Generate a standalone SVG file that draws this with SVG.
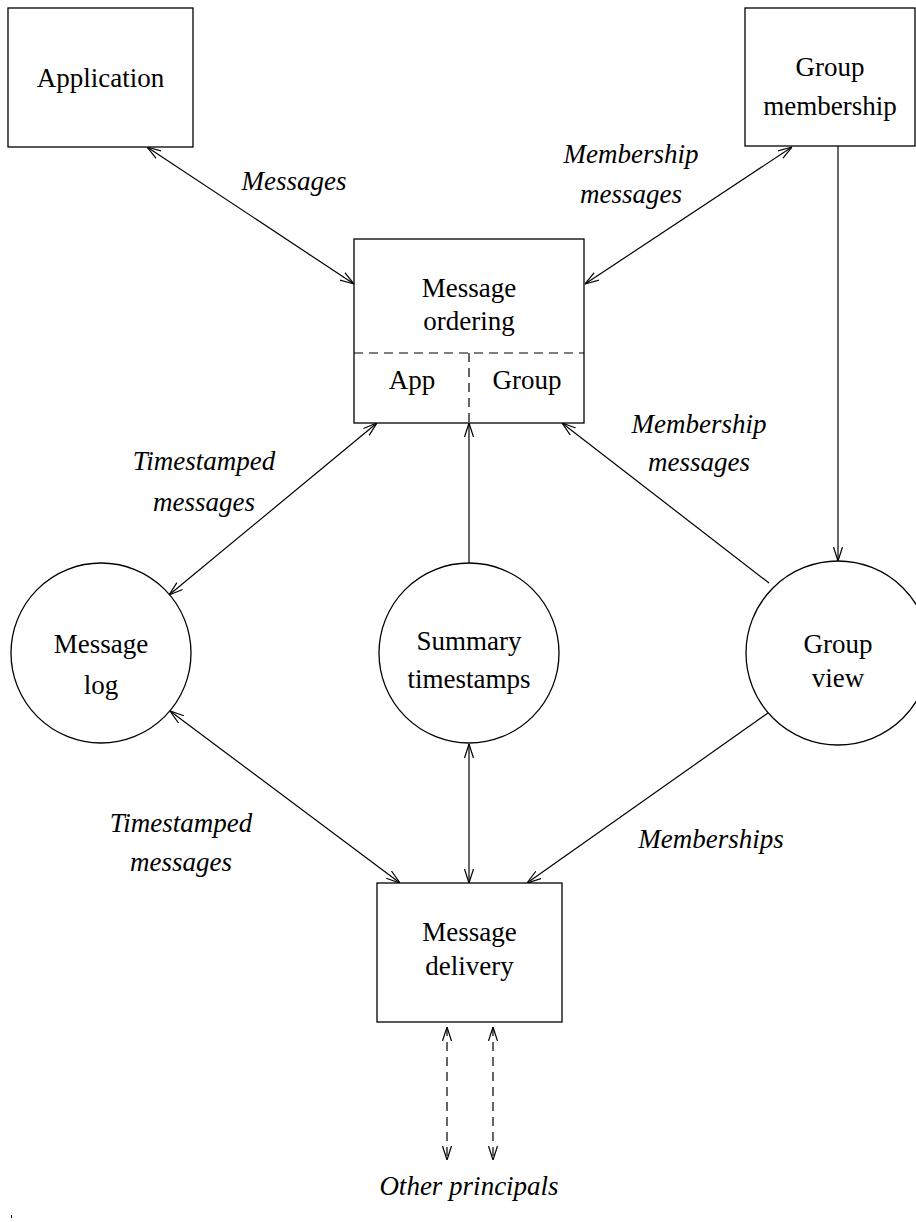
<svg xmlns="http://www.w3.org/2000/svg" width="916" height="1222" viewBox="0 0 916 1222">
<style>
.box{fill:#fff;stroke:#000;stroke-width:1.3}
.t{font-family:"Liberation Serif","Times New Roman",serif;font-size:27px;text-anchor:middle;fill:#000}
.i{font-style:italic}
.c{fill:none;stroke:#000;stroke-width:1.2}
.d{stroke-dasharray:9 6}
</style>
<defs>
<marker id="ah" viewBox="0 0 14 10" refX="14" refY="5" markerWidth="14" markerHeight="10" markerUnits="userSpaceOnUse" orient="auto-start-reverse">
<path d="M0,0.5 L14,5 L0,9.5" fill="none" stroke="#000" stroke-width="1.2" stroke-dasharray="none"/>
</marker>
</defs>
<rect width="916" height="1222" fill="#fff"/>
<g id="connectors">
<line class="c" x1="147" y1="147" x2="354" y2="284" marker-start="url(#ah)" marker-end="url(#ah)"/>
<line class="c" x1="792" y1="147" x2="585" y2="284" marker-start="url(#ah)" marker-end="url(#ah)"/>
<line class="c" x1="838" y1="146" x2="838" y2="561" marker-end="url(#ah)"/>
<line class="c" x1="377" y1="423" x2="169" y2="595" marker-start="url(#ah)" marker-end="url(#ah)"/>
<line class="c" x1="469" y1="563" x2="469" y2="423" marker-end="url(#ah)"/>
<line class="c" x1="769" y1="583" x2="562" y2="423" marker-end="url(#ah)"/>
<line class="c" x1="170" y1="711" x2="400" y2="883" marker-start="url(#ah)" marker-end="url(#ah)"/>
<line class="c" x1="469" y1="744" x2="469" y2="883" marker-start="url(#ah)" marker-end="url(#ah)"/>
<line class="c" x1="768" y1="713" x2="527" y2="883" marker-end="url(#ah)"/>
<line class="c d" x1="447" y1="1027" x2="447" y2="1160" marker-start="url(#ah)" marker-end="url(#ah)"/>
<line class="c d" x1="493" y1="1027" x2="493" y2="1160" marker-start="url(#ah)" marker-end="url(#ah)"/>
</g>
<g id="application">
<rect class="box" x="8" y="8" width="185" height="139"/>
<text class="t" x="100.5" y="87">Application</text>
</g>
<g id="group-membership">
<rect class="box" x="745" y="8" width="170" height="138"/>
<text class="t" x="830" y="76">Group</text>
<text class="t" x="830" y="115">membership</text>
</g>
<g id="message-ordering">
<rect class="box" x="354" y="239" width="230" height="184"/>
<line class="c d" x1="354" y1="353" x2="584" y2="353"/>
<line class="c d" x1="469" y1="353" x2="469" y2="423"/>
<text class="t" x="469" y="297">Message</text>
<text class="t" x="469" y="330">ordering</text>
<text class="t" x="412" y="389">App</text>
<text class="t" x="527" y="389">Group</text>
</g>
<g id="message-log">
<circle class="box" cx="101" cy="653" r="90"/>
<text class="t" x="101" y="653">Message</text>
<text class="t" x="101" y="694">log</text>
</g>
<g id="summary-timestamps">
<circle class="box" cx="469" cy="653" r="90"/>
<text class="t" x="469" y="650">Summary</text>
<text class="t" x="469" y="688">timestamps</text>
</g>
<g id="group-view">
<circle class="box" cx="838" cy="653" r="92"/>
<text class="t" x="838" y="653">Group</text>
<text class="t" x="838" y="687">view</text>
</g>
<g id="message-delivery">
<rect class="box" x="377" y="883" width="185" height="139"/>
<text class="t" x="469.5" y="941">Message</text>
<text class="t" x="469.5" y="975">delivery</text>
</g>
<g id="labels">
<text class="t i" x="294" y="190">Messages</text>
<text class="t i" x="631" y="163">Membership</text>
<text class="t i" x="631" y="203">messages</text>
<text class="t i" x="204" y="470">Timestamped</text>
<text class="t i" x="204" y="511">messages</text>
<text class="t i" x="699" y="433">Membership</text>
<text class="t i" x="699" y="471">messages</text>
<text class="t i" x="181" y="832">Timestamped</text>
<text class="t i" x="181" y="871">messages</text>
<text class="t i" x="711" y="848">Memberships</text>
<text class="t i" x="469" y="1195">Other principals</text>
</g>
<rect x="11" y="1215" width="1" height="3" fill="#000"/>
</svg>
